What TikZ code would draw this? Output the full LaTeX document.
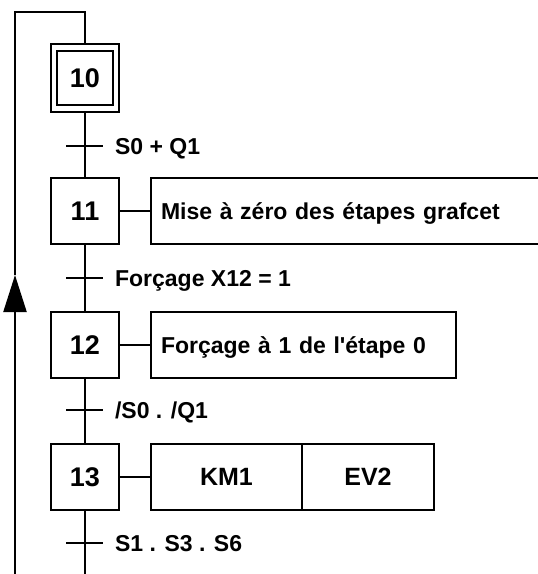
\documentclass[tikz,border=0pt]{standalone}
\usepackage{fontspec}
\setmainfont{Liberation Sans}
\usetikzlibrary{arrows.meta,positioning}
\tikzset{
  stepbox/.style={draw, minimum width=68pt, minimum height=66pt, inner sep=0pt, outer sep=0pt, font=\fontsize{27}{30}\selectfont\bfseries, text height=19.3pt, text depth=0pt},
  actbox/.style={minimum height=66pt, inner sep=0pt, outer sep=0pt, text height=16.5pt, text depth=0pt},
  outbox/.style={actbox, draw, font=\fontsize{25}{28}\selectfont\bfseries, text height=17.9pt},
  cond/.style={inner sep=0pt, text height=16.5pt, text depth=0pt},
}
\begin{document}
\begin{tikzpicture}[x=1pt,y=-1pt,line width=2.2pt,font=\fontsize{23}{26}\selectfont\bfseries]
  \useasboundingbox (0,0) rectangle (538,574);
  \node[stepbox, minimum width=56pt, minimum height=54pt] (s10) at (85,78) {10};
  \node[stepbox, minimum height=68pt] (s10o) at (s10) {};
  \node[stepbox] (s11) at (85,211) {11};
  \node[stepbox] (s12) at (85,345) {12};
  \node[stepbox] (s13) at (85,477) {13};

  \node[actbox, right=32pt of s11, minimum width=388pt, text width=368pt, inner xsep=10pt, align=left] (a11) {Mise à zéro des étapes grafcet};
  \draw (a11.north east) -- (a11.north west) -- (a11.south west) -- (a11.south east);
  \node[actbox, draw, right=32pt of s12, minimum width=305pt, text width=285pt, inner xsep=10pt, align=left] (a12) {Forçage à 1 de l\textquotesingle étape 0};
  \node[outbox, right=32pt of s13, minimum width=151pt] (km1) {KM1};
  \node[outbox, right=0pt of km1, minimum width=132pt] (ev2) {EV2};

  \coordinate (t1) at (85,146);
  \coordinate (t2) at (85,278);
  \coordinate (t3) at (85,410);
  \coordinate (t4) at (85,543);
  \coordinate (end) at (85,574);
  \node[cond, right=29pt of t1] (c1) {S0 + Q1};
  \node[cond, right=29pt of t2] (c2) {Forçage X12 = 1};
  \node[cond, right=29pt of t3] (c3) {/S0 . /Q1};
  \node[cond, right=29pt of t4] (c4) {S1 . S3 . S6};

  \draw (s10o) -- (s11) -- (s12) -- (s13) -- (end);
  \draw ([xshift=-19pt]t1) -- ([xshift=18pt]t1);
  \draw ([xshift=-19pt]t2) -- ([xshift=18pt]t2);
  \draw ([xshift=-19pt]t3) -- ([xshift=18pt]t3);
  \draw ([xshift=-19pt]t4) -- ([xshift=18pt]t4);
  \draw (s11) -- (a11);
  \draw (s12) -- (a12);
  \draw (s13) -- (km1);

  \coordinate (lb) at (15,574);
  \coordinate (tip) at (15,275);
  \coordinate (lt) at (15,12);
  \draw[-{Triangle[length=37pt,width=23pt]}] (lb) -- (tip);
  \draw (tip) -- (lt) -| (s10o.north);
\end{tikzpicture}
\end{document}
